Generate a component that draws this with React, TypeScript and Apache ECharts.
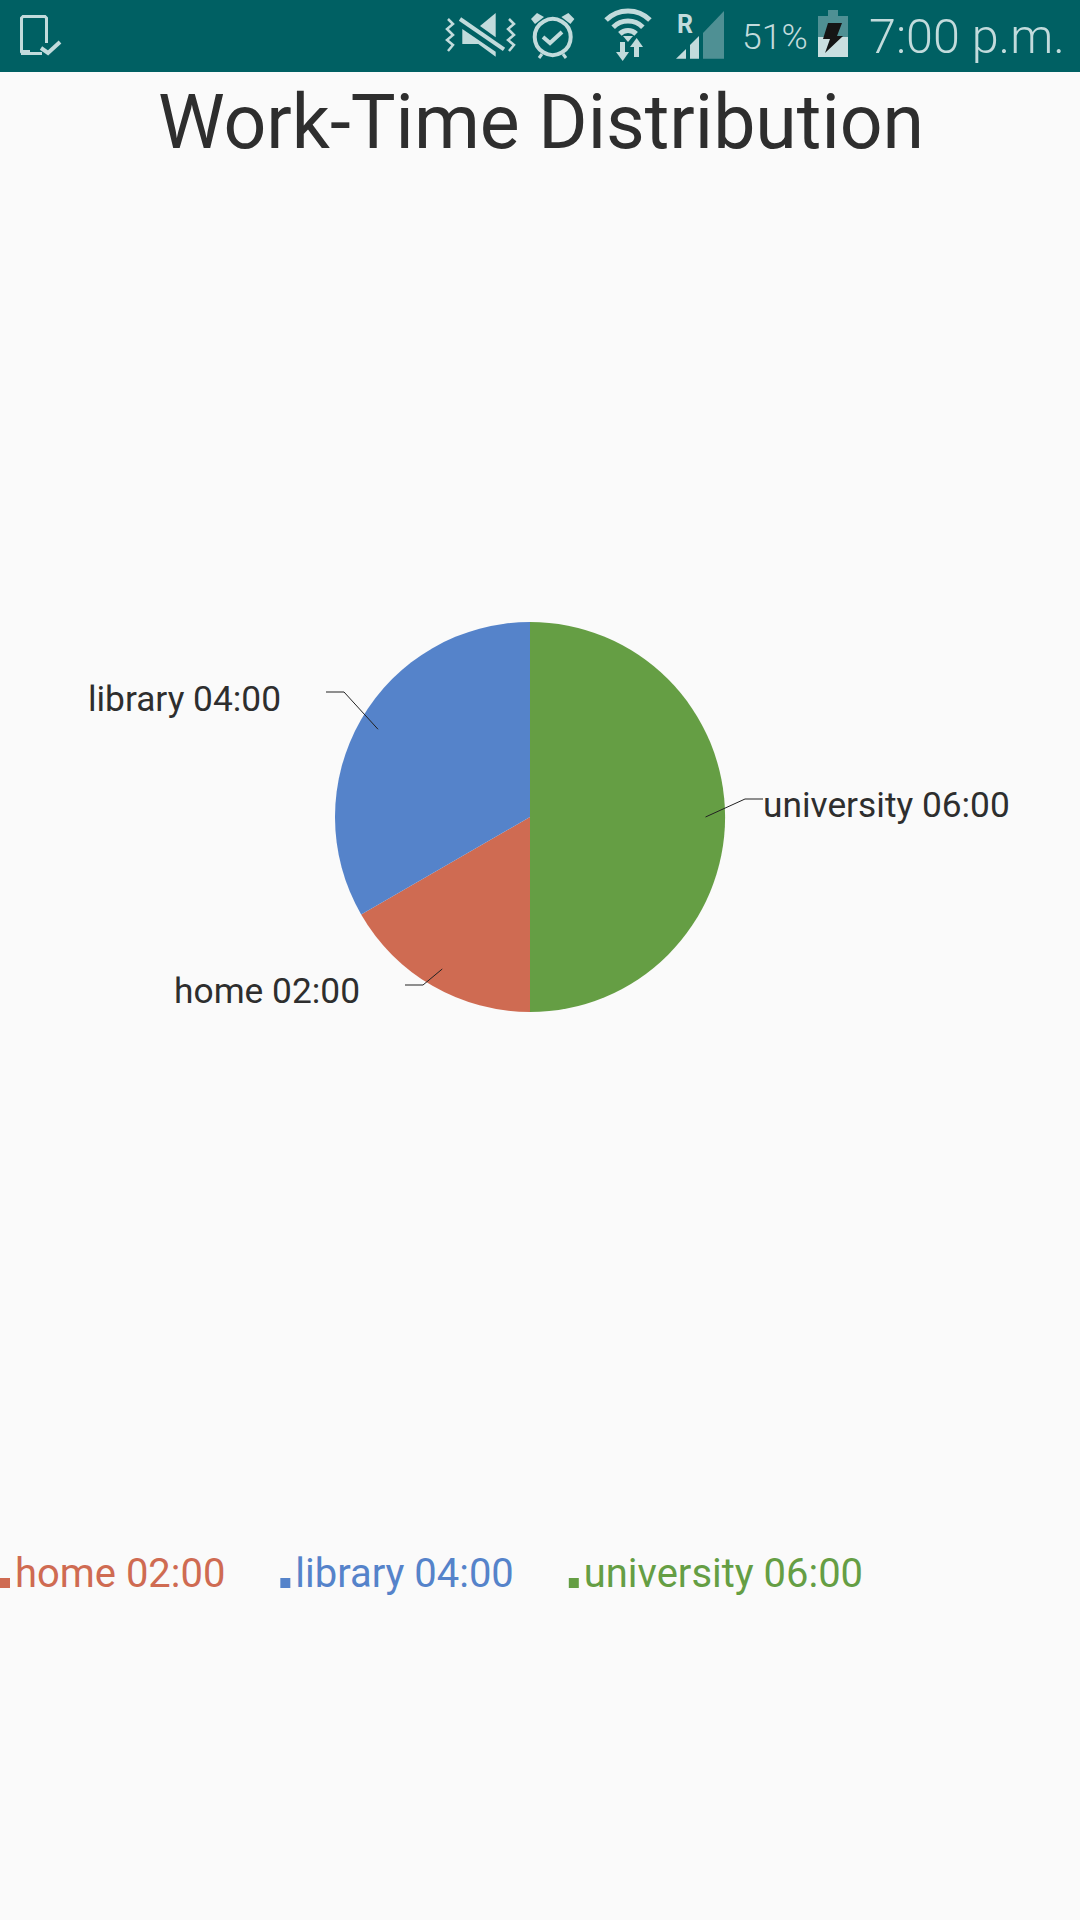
import React, { useEffect, useRef } from "react";
import * as echarts from "echarts";

const categories = ["home", "library", "university"];
const hours = [2, 4, 6];
const timeLabels = ["02:00", "04:00", "06:00"];
const colors = ["#CF6B52", "#5583CA", "#659E44"];
const chartTitle = "Work-Time Distribution";
const batteryText = "51%";
const clockText = "7:00 p.m.";

const CX = 530;
const CY = 817;
const R = 195;
const FONT = "Roboto";
const TEAL = "#006063";
const ICON = "#C2DBDC";
const DIM = "#4F9094";

// label anchor, elbow and end of leader for each slice
const labelLayouts = [
  { x: 360, y: 991, align: "right", elbow: [423, 985], end: [405, 985] },
  { x: 281, y: 699, align: "right", elbow: [344, 692], end: [326, 692] },
  { x: 763, y: 805, align: "left", elbow: [745, 799], end: [763, 799] },
];

const line = (points: number[][], width = 3, stroke = ICON) => ({
  type: "polyline",
  shape: { points },
  style: { stroke, lineWidth: width, fill: "none" },
  z: 10,
});
const poly = (points: number[][], fill = ICON) => ({
  type: "polygon",
  shape: { points },
  style: { fill },
  z: 10,
});
const arc = (r: number) => ({
  type: "arc",
  shape: { cx: 628, cy: 42, r, startAngle: (-135 * Math.PI) / 180, endAngle: (-45 * Math.PI) / 180 },
  style: { stroke: ICON, lineWidth: 5, fill: "none" },
  z: 10,
});
const wave = (dx: number) =>
  line(
    [
      [448 + dx, 19],
      [453 + dx, 24],
      [447 + dx, 29],
      [453 + dx, 35],
      [447 + dx, 40],
      [453 + dx, 45],
      [448 + dx, 51],
    ],
    2.5
  );

const statusBar: any[] = [
  { type: "rect", shape: { x: 0, y: 0, width: 1080, height: 72 }, style: { fill: TEAL }, z: 9 },
  // phone with check
  line([[42, 53.5], [23, 53.5], [21.5, 52], [21.5, 18], [23, 16.5], [45, 16.5], [46.5, 18], [46.5, 43]]),
  { type: "rect", shape: { x: 21, y: 50, width: 9, height: 5 }, style: { fill: ICON }, z: 10 },
  line([[41, 48], [48, 53], [60, 42]], 4),
  // muted vibrate
  wave(0),
  wave(61),
  poly([[495.7, 13], [480, 26], [495.7, 37.3]]),
  poly([[462.3, 29], [495.7, 51.7], [495.7, 56.7], [478.3, 44], [462.3, 44]]),
  line([[460, 19], [504, 49.3]], 4),
  // alarm
  { type: "circle", shape: { cx: 552.7, cy: 37, r: 18 }, style: { stroke: ICON, lineWidth: 4, fill: "none" }, z: 10 },
  poly([[531, 19], [537, 13], [544, 17], [535, 24]]),
  poly([[574.4, 19], [568.4, 13], [561.4, 17], [570.4, 24]]),
  line([[539, 58], [542, 54]]),
  line([[566, 58], [563, 54]]),
  line([[543, 37], [550, 43], [562, 32]], 4),
  // wifi
  arc(31),
  arc(21),
  arc(11.5),
  poly([[623, 36], [633, 36], [628, 42]]),
  poly([[616, 52], [629, 52], [622.7, 61]]),
  { type: "rect", shape: { x: 620, y: 42, width: 5, height: 10 }, style: { fill: ICON }, z: 10 },
  poly([[630, 47], [643, 47], [636.7, 38]]),
  { type: "rect", shape: { x: 634, y: 47, width: 5, height: 10 }, style: { fill: ICON }, z: 10 },
  // roaming signal
  { type: "text", x: 677, y: 24, style: { text: "R", fill: ICON, font: `bold 25px ${FONT}`, align: "left", verticalAlign: "middle" }, z: 10 },
  poly([[676, 58.7], [686, 49], [686, 58.7]]),
  poly([[690, 58.7], [690, 45], [699, 36], [699, 58.7]]),
  poly([[703, 58.7], [703, 33], [724, 11], [724, 58.7]], DIM),
  // battery level
  { type: "text", x: 742, y: 37, style: { text: batteryText, fill: ICON, font: `300 35.5px ${FONT}`, align: "left", verticalAlign: "middle" }, z: 10 },
  { type: "rect", shape: { x: 828, y: 10, width: 10, height: 6 }, style: { fill: DIM }, z: 10 },
  { type: "rect", shape: { x: 818, y: 16, width: 30, height: 21 }, style: { fill: DIM }, z: 10 },
  { type: "rect", shape: { x: 818, y: 37, width: 30, height: 20 }, style: { fill: "#CADFE0" }, z: 10 },
  poly([[828, 23], [842, 23], [837, 36], [843, 36], [825, 53], [830, 39], [823, 39]], "#151515"),
  // clock
  { type: "text", x: 869, y: 36, style: { text: clockText, fill: ICON, font: `300 48.5px ${FONT}`, align: "left", verticalAlign: "middle" }, z: 10 },
];

const total = hours.reduce((a, b) => a + b, 0);
const names = categories.map((c, i) => `${c} ${timeLabels[i]}`);

// The leader starts inside the slice, at 90% of the radius on its mid angle.
function leaderStart(index: number) {
  let before = 0;
  for (let i = 0; i < index; i++) before += hours[i];
  const mid = Math.PI + ((before + hours[index] / 2) / total) * 2 * Math.PI;
  return [CX + 0.9 * R * Math.sin(mid), CY - 0.9 * R * Math.cos(mid)];
}

// A 10x10 square at the foot of a 10x30 box, so that it sits at the text's baseline.
const LEGEND_ICON = "path://M0 0L10 0L0 0ZM0 20L10 20L10 30L0 30Z";

export default function App() {
  const ref = useRef<HTMLDivElement>(null);
  useEffect(() => {
    document.body.style.margin = "0";
    const chart = echarts.init(ref.current!, undefined, { renderer: "svg" });
    const pieBase = {
      type: "pie",
      center: [CX, CY],
      radius: [0, R],
      startAngle: 270,
      clockwise: true,
      avoidLabelOverlap: false,
    };
    chart.setOption({
      animation: false,
      backgroundColor: "#FAFAFA",
      title: {
        text: chartTitle,
        left: 536,
        top: 79,
        textAlign: "center",
        textStyle: { fontFamily: FONT, fontSize: 75.2, fontWeight: 400, color: "#2E2E2E" },
      },
      legend: {
        data: names.map((name, i) => ({
          name,
          icon: LEGEND_ICON,
          textStyle: { color: colors[i] },
        })),
        left: 0,
        top: 1553,
        padding: 0,
        itemWidth: 10,
        itemHeight: 30,
        itemGap: 55,
        selectedMode: false,
        textStyle: { fontFamily: FONT, fontSize: 39.95 },
      },
      graphic: { elements: statusBar },
      series: [
        {
          ...pieBase,
          z: 2,
          data: names.map((name, i) => ({
            name,
            value: hours[i],
            itemStyle: { color: colors[i] },
          })),
          label: { show: false },
          labelLine: { show: false },
        },
        {
          // transparent copy that carries the labels, so that the leaders lie over the slices
          ...pieBase,
          z: 3,
          silent: true,
          data: names.map((name, i) => ({
            name,
            value: hours[i],
            itemStyle: { color: "transparent" },
          })),
          label: {
            show: true,
            position: "outer",
            formatter: "{b}",
            fontFamily: FONT,
            fontSize: 35.3,
            color: "#2E2E2E",
          },
          labelLine: {
            show: true,
            length: 30,
            length2: 18,
            lineStyle: { color: "#222222", width: 1 },
          },
          labelLayout: (params: any) => {
            const l = labelLayouts[params.dataIndex];
            return {
              x: l.x,
              y: l.y,
              align: l.align,
              verticalAlign: "middle",
              labelLinePoints: [leaderStart(params.dataIndex), l.elbow, l.end],
            };
          },
        },
      ],
    });
    return () => chart.dispose();
  }, []);
  return <div ref={ref} style={{ width: 1080, height: 1920 }} />;
}
